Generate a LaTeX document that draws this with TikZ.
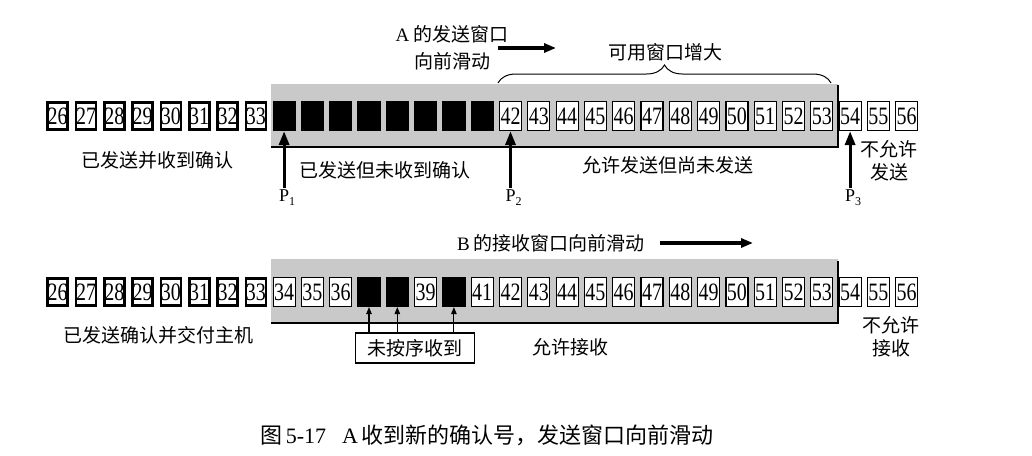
\documentclass[tikz,border=0pt]{standalone}
\usepackage{fontspec}
\setmainfont{Liberation Serif}
\newfontfamily\cjk{Noto Sans CJK SC}
\newfontfamily\numfont[FakeStretch=0.8]{Liberation Serif}
\usetikzlibrary{positioning,arrows.meta,decorations.pathreplacing}

% P with a lowered index
\newcommand{\pidx}[1]{P\raisebox{-4pt}{\fontsize{12}{12}\selectfont #1}}

\begin{document}
\begin{tikzpicture}[x=1pt, y=-1pt,
  every node/.style={align=center},
  lbl/.style={font=\cjk\fontsize{19}{23}\selectfont, inner sep=1pt},
  plab/.style={font=\fontsize{18}{18}\selectfont, inner sep=1pt},
  cell/.style={draw, line width=1.2pt, fill=white, minimum width=22pt, minimum height=29pt, inner sep=0pt, font=\numfont\fontsize{25}{25}\selectfont},
  done/.style={cell, line width=2.6pt, minimum width=20pt, minimum height=27pt},
  sent/.style={cell, fill=black},
  win/.style={fill=gray!42},
  edge/.style={line width=1.5pt},
  ptr/.style={-{Triangle[length=14pt,width=10pt]}, line width=3.2pt},
  tick/.style={-{Triangle[length=7pt,width=5.5pt]}, line width=1.1pt},
  mv/.style={-{Triangle[length=12pt,width=9pt]}, line width=3.2pt}
]
\useasboundingbox (0,0) rectangle (1032,455);

% sending window of A
\fill[win] (271,84) rectangle (838,147);
\foreach \n in {26,...,33} \node[done] (s\n) at ({57.7+28.3*(\n-26)},116) {\n};
\foreach \n in {34,...,41} \node[sent] (s\n) at ({57.7+28.3*(\n-26)},116) {};
\foreach \n in {42,...,56} \node[cell] (s\n) at ({57.7+28.3*(\n-26)},116) {\n};
\draw[edge] (271,147) -| (838,85);

\node[lbl] (slideA) at (452,48) {{\rmfamily A} 的发送窗口\\[4pt]向前滑动};
\coordinate (astart) at (498,48);
\coordinate (aend) at (556,48);
\draw[mv] (astart) -- (aend);

\draw[decorate, decoration={brace, amplitude=18pt}, line width=1pt] (498,83) -- (831,83);
\node[lbl] (grow) at (665,52) {可用窗口增大};

\node[lbl] (acked) at (157,160) {已发送并收到确认};
\node[lbl] (unacked) at (385,170) {已发送但未收到确认};
\node[lbl] (usable) at (668,165) {允许发送但尚未发送};
\node[lbl] (nosend) at (889,161) {不允许\\发送};

\node[plab, below=57pt of s34, xshift=3pt] (p1) {\pidx1};
\node[plab, below=57pt of s42, xshift=3pt] (p2) {\pidx2};
\node[plab, below=57pt of s54, xshift=3pt] (p3) {\pidx3};
\draw[ptr] (s34 |- p1.north) -- (s34.south);
\draw[ptr] (s42 |- p2.north) -- (s42.south);
\draw[ptr] (s54 |- p3.north) -- (s54.south);

% receiving window of B
\fill[win] (271,259) rectangle (838,323);
\foreach \n in {26,...,33} \node[done] (r\n) at ({57.7+28.3*(\n-26)},292) {\n};
\foreach \n in {34,35,36,39,41,42,...,56} \node[cell] (r\n) at ({57.7+28.3*(\n-26)},292) {\n};
\foreach \n in {37,38,40} \node[sent] (r\n) at ({57.7+28.3*(\n-26)},292) {};
\draw[edge] (271,323) -| (838,261);

\node[lbl] (slideB) at (551,243) {{\rmfamily B} 的接收窗口向前滑动};
\coordinate (bstart) at (660,243);
\coordinate (bend) at (753,243);
\draw[mv] (bstart) -- (bend);

\node[lbl] (delivered) at (158,335) {已发送确认并交付主机};
\node[lbl] (accept) at (570,347) {允许接收};
\node[lbl] (norecv) at (891,337) {不允许\\接收};

\node[lbl, draw, line width=1.1pt, minimum width=119pt, minimum height=30pt] (ooo) at (415,348) {未按序收到};
\foreach \n in {37,38,40} \draw[tick] (r\n |- ooo.north) -- (r\n.south);

\node[font=\fontsize{22}{22}\selectfont] (cap) at (487,435) {{\cjk 图}\,5-17\hspace{16pt}A\,{\cjk 收到新的确认号，发送窗口向前滑动}};
\end{tikzpicture}
\end{document}
